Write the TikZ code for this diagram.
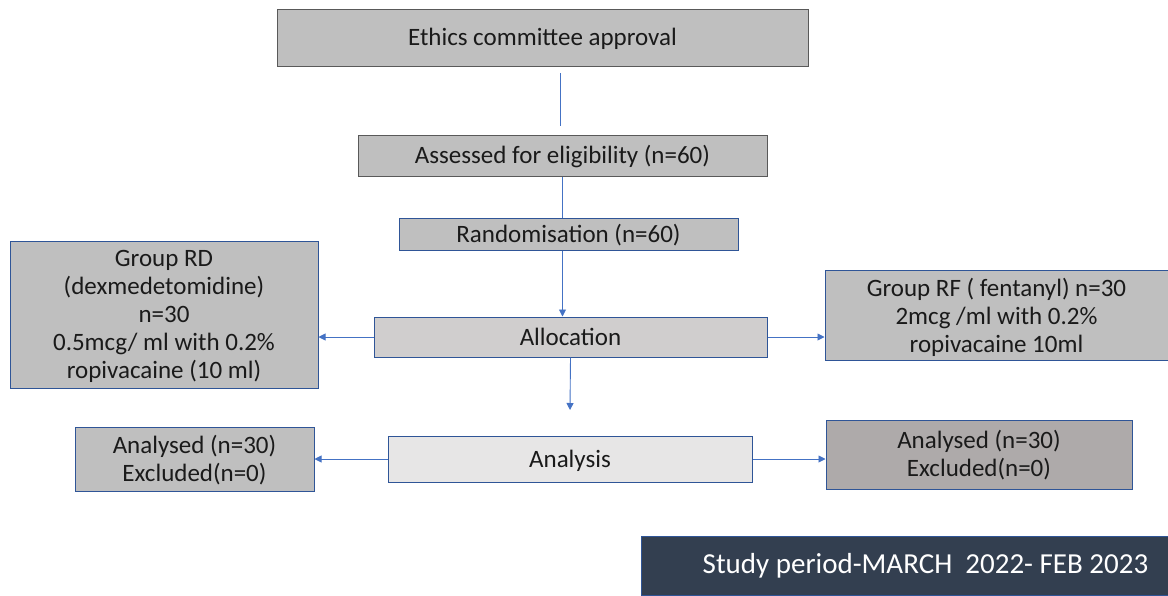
\documentclass[tikz,border=0pt]{standalone}
\usepackage{fontspec}
\setmainfont{Carlito}
\usetikzlibrary{arrows.meta}
\definecolor{gA}{HTML}{BFBFBF}
\definecolor{gB}{HTML}{D0CECE}
\definecolor{gC}{HTML}{E7E6E6}
\definecolor{gD}{HTML}{AEAAAA}
\definecolor{slate}{HTML}{333F50}
\definecolor{bblue}{HTML}{2F5597}
\definecolor{lblue}{HTML}{4472C4}
\definecolor{dgray}{HTML}{595959}
\definecolor{txt}{HTML}{1A1A1A}
\newcommand{\mlines}[2]{\begin{tabular}{@{}c@{}}\rule{0pt}{#1}#2\end{tabular}}
\begin{document}
\begin{tikzpicture}[x=1pt,y=-1pt,
  basebox/.style={draw=bblue, line width=1pt, inner sep=0pt, text=txt,
    font=\fontsize{25}{28}\selectfont},
  box/.style={basebox,
    execute at begin node={\rule{0pt}{23pt}},
    execute at end node={\rule[-7pt]{0pt}{7pt}}},
  conn/.style={draw=lblue, line width=0.9pt},
  arr/.style={conn, -{Triangle[length=7pt,width=7pt]}}]
\useasboundingbox (0,0) rectangle (1168,595);
\node[box, draw=dgray, fill=gA, minimum width=531pt, minimum height=57pt] (ethics) at (542.5,37.5) {Ethics committee approval};
\node[box, draw=dgray, fill=gA, minimum width=409pt, minimum height=41pt] (ass) at (562.5,155.5) {Assessed for eligibility (n=60)};
\node[box, fill=gA, minimum width=339pt, minimum height=32pt] (rand) at (568.5,234) {Randomisation (n=60)};
\node[box, fill=gB, minimum width=393pt, minimum height=40pt] (alloc) at (570.5,337) {Allocation};
\node[box, fill=gC, minimum width=364pt, minimum height=46pt] (anal) at (570,459) {Analysis};
\node[basebox, fill=gA, minimum width=308pt, minimum height=147pt] (rd) at (164,314.5) {\mlines{23.6pt}{Group RD\\(dexmedetomidine)\\n=30\\0.5mcg/ ml with 0.2\%\\ropivacaine (10 ml)}};
\node[basebox, fill=gA, minimum width=343pt, minimum height=83pt] (rf) at (996.5,315.5) {\mlines{25.6pt}{Group RF ( fentanyl) n=30\\2mcg /ml with 0.2\%\\ropivacaine 10ml}};
\node[basebox, fill=gA, minimum width=239pt, minimum height=64pt] (al) at (194.5,459) {\mlines{24.6pt}{Analysed (n=30)\\Excluded(n=0)}};
\node[basebox, fill=gD, minimum width=306pt, minimum height=69pt] (ar) at (979,454.5) {\mlines{23.6pt}{Analysed (n=30)\\Excluded(n=0)}};
\node[box, fill=slate, draw=bblue, line width=0.6pt, minimum width=527pt, minimum height=59pt, text=white,
  font=\fontsize{29}{32}\selectfont] (study) at (904.5,565.5) {\hspace*{42pt}Study period-MARCH\ \ 2022- FEB 2023};
\coordinate (e1) at (560,73);
\coordinate (e2) at (560,126);
\coordinate (d1) at (570,410);
\draw[conn] (e1) -- (e2);
\draw[conn] (ass.south) -- (ass.south |- rand.north);
\draw[arr] (rand.south -| ass.south) -- (ass.south |- alloc.north);
\draw[arr] (alloc.west) -- (rd.east |- alloc.west);
\draw[arr] (alloc.east) -- (rf.west |- alloc.east);
\draw[arr] (alloc.south) -- (d1);
\draw[arr] (anal.west) -- (al.east |- anal.west);
\draw[arr] (anal.east) -- (ar.west |- anal.east);
\end{tikzpicture}
\end{document}
